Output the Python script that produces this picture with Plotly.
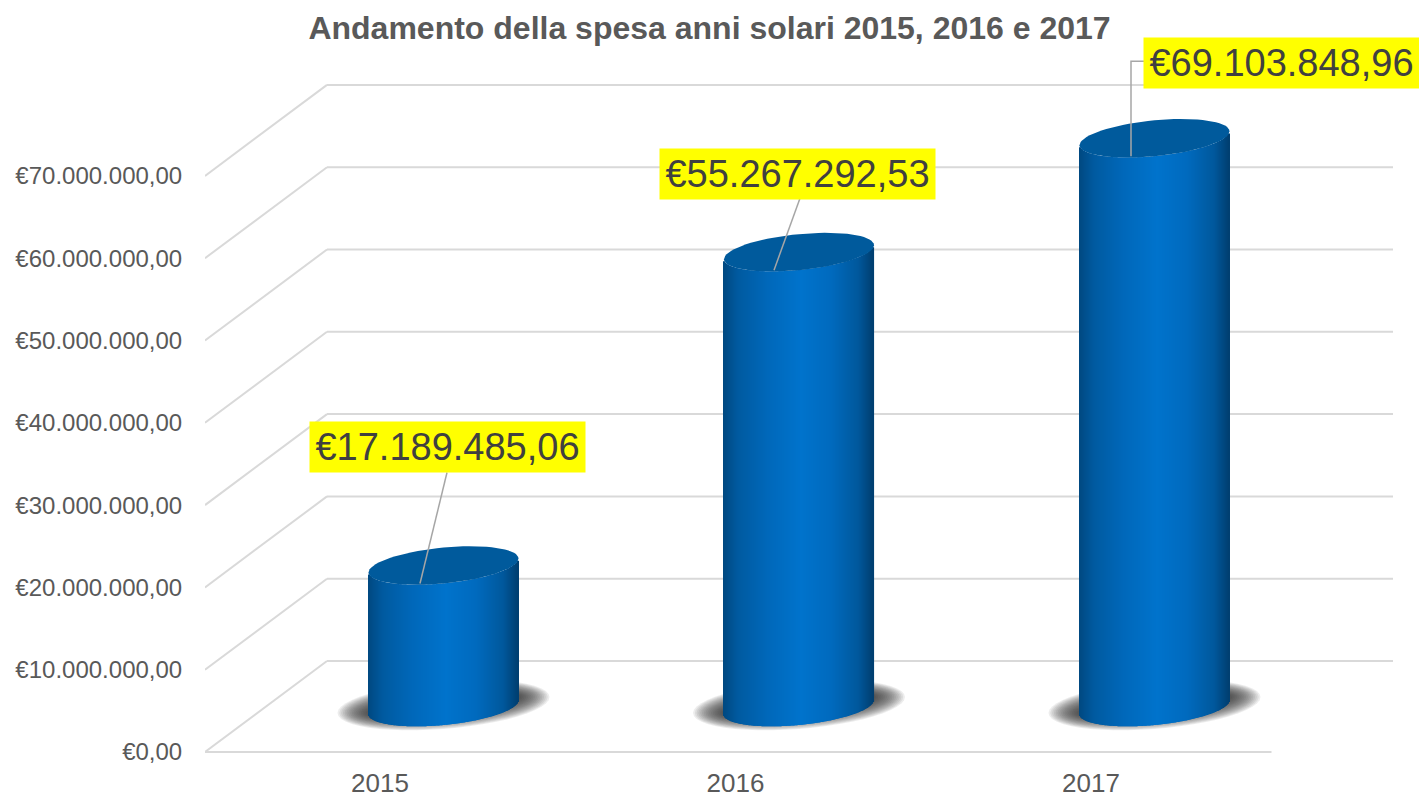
import math
import plotly.graph_objects as go

# ---- data ----
years = ["2015", "2016", "2017"]
values = [17189485.06, 55267292.53, 69103848.96]
value_labels = ["€17.189.485,06", "€55.267.292,53", "€69.103.848,96"]
axis_ticks = [0, 10e6, 20e6, 30e6, 40e6, 50e6, 60e6, 70e6]
axis_tick_labels = ["€0,00", "€10.000.000,00", "€20.000.000,00", "€30.000.000,00",
                    "€40.000.000,00", "€50.000.000,00", "€60.000.000,00", "€70.000.000,00"]
title_text = "Andamento della spesa anni solari 2015, 2016 e 2017"

# ---- geometry (pixels per axis unit, and pseudo-3D offsets in pixels) ----
W, H = 1419, 796
PLOT_L, PLOT_R, PLOT_T, PLOT_B = 205, 1393, 40, 756
FLOOR_PAD = 4                   # room under the zero line so it is not clipped
PX_PER_CAT = 355.5
PX_CAT0 = 380.0
PX_PER_VAL = 82.3 / 10e6
WALL_DX, WALL_DY = 122, 91      # depth of the floor
BAR_DX, BAR_DY = 63.5, 45       # bar centre on the floor
A, B, K = 75, 18, -7            # half-width, half-height, tilt of the cap ellipses


def dx(px):
    return px / PX_PER_CAT


def dy(px):
    return px / PX_PER_VAL


xrange_ = [(PLOT_L - PX_CAT0) / PX_PER_CAT, (PLOT_R - PX_CAT0) / PX_PER_CAT]
yrange_ = [-dy(FLOOR_PAD), dy(PLOT_B - FLOOR_PAD - PLOT_T)]
x_left = xrange_[0]

GRID = dict(color="#d9d9d9", width=2)
shapes = []
# side wall diagonals + back wall lines, from the axis ticks
for t in axis_ticks:
    shapes.append(dict(type="line", xref="x", yref="y", layer="below", line=GRID,
                       x0=x_left, y0=t, x1=x_left + dx(WALL_DX), y1=t + dy(WALL_DY)))
    shapes.append(dict(type="line", xref="x", yref="y", layer="below", line=GRID,
                       x0=x_left + dx(WALL_DX), y0=t + dy(WALL_DY),
                       x1=xrange_[1], y1=t + dy(WALL_DY)))
# front floor edge
shapes.append(dict(type="line", xref="x", yref="y", layer="below", line=GRID,
                   x0=x_left, y0=0, x1=x_left + 3 * dx(PX_PER_CAT), y1=0))


def ellipse(cx, cy, a, b, k, n=72):
    xs, ys = [], []
    for i in range(n + 1):
        t = 2 * math.pi * i / n
        xs.append(cx + dx(a * math.cos(t)))
        ys.append(cy - dy(b * math.sin(t) + k * math.cos(t)))
    return xs, ys


# soft shadows under the bars
SHADOW_LAYERS = 20
for i in range(len(years)):
    cx, cy = i + dx(BAR_DX), dy(BAR_DY + 2)
    for j in range(SHADOW_LAYERS):
        f = j / (SHADOW_LAYERS - 1)
        xs, ys = ellipse(cx, cy, 106 - 34 * f, 24 - 16 * f, -8, 48)
        path = "M" + "L".join(f"{x:.5f},{y:.1f}" for x, y in zip(xs, ys)) + "Z"
        shapes.append(dict(type="path", xref="x", yref="y", layer="below", path=path,
                           fillcolor="rgba(50,50,50,0.085)", line=dict(width=0)))

# cylinder shading stops (position, rgb)
STOPS = [(0.0, (0, 72, 128)), (0.10, (0, 90, 160)), (0.30, (0, 104, 186)),
         (0.52, (0, 115, 204)), (0.72, (0, 106, 190)), (0.90, (0, 88, 156)),
         (1.0, (0, 62, 112))]


def shade(f):
    for (p0, c0), (p1, c1) in zip(STOPS, STOPS[1:]):
        if f <= p1:
            r = (f - p0) / (p1 - p0)
            c = [round(u + (v - u) * r) for u, v in zip(c0, c1)]
            return f"rgb({c[0]},{c[1]},{c[2]})"
    return "rgb(0,62,112)"


fig = go.Figure()
N = 2 * A
for i, v in enumerate(values):
    cx = i + dx(BAR_DX)
    xs, bases, heights, colors = [], [], [], []
    for s in range(N):
        u = -1 + (2 * s + 1) / N
        front = B * math.sqrt(1 - u * u) + K * u
        xs.append(cx + dx(A * u))
        bases.append(dy(BAR_DY - front))
        heights.append(v)
        colors.append(shade((u + 1) / 2))
    fig.add_trace(go.Bar(x=xs, y=heights, base=bases, width=dx(2 * A / N) * 1.15,
                         marker=dict(color=colors, line=dict(width=0)),
                         showlegend=False, hoverinfo="skip"))

for i, v in enumerate(values):
    cx = i + dx(BAR_DX)
    ex, ey = ellipse(cx, v + dy(BAR_DY), A, B, K)
    fig.add_trace(go.Scatter(x=ex, y=ey, mode="lines", fill="toself", fillcolor="#005a9c",
                             line=dict(width=0, color="#005a9c"), showlegend=False,
                             hoverinfo="skip"))

# leader lines + yellow value labels; offsets in pixels from each bar's cap centre
label_offsets = [(3.5, -119), (-2, -78), (127, -75)]
leader_paths = [[(-23.5, 18), (3.5, -93)], [(-25, 18), (1, -54)], [(-23.5, 18), (-23.5, -77), (-10, -77)]]
for i, v in enumerate(values):
    cx = i + dx(BAR_DX)
    cy = v + dy(BAR_DY)
    fig.add_trace(go.Scatter(x=[cx + dx(p[0]) for p in leader_paths[i]],
                             y=[cy - dy(p[1]) for p in leader_paths[i]],
                             mode="lines", line=dict(color="#a6a6a6", width=1.5),
                             showlegend=False, hoverinfo="skip"))

annotations = []
for i, v in enumerate(values):
    ox, oy = label_offsets[i]
    annotations.append(dict(x=i + dx(BAR_DX + ox), y=v + dy(BAR_DY - oy), xref="x", yref="y",
                            text=value_labels[i], showarrow=False, bgcolor="#ffff00",
                            width=275, height=50, borderpad=0, xanchor="center", yanchor="middle",
                            font=dict(family="Liberation Sans", size=38, color="#404040")))

fig.update_layout(
    width=W, height=H, autosize=False, paper_bgcolor="white", plot_bgcolor="white",
    margin=dict(l=PLOT_L, r=W - PLOT_R, t=PLOT_T, b=H - PLOT_B, pad=0, autoexpand=False),
    barmode="overlay", showlegend=False,
    title=dict(text=f"<b>{title_text}</b>", x=0.5, xanchor="center", xref="container",
               y=1 - 28 / H, yanchor="middle", yref="container",
               font=dict(family="Liberation Sans", size=32, color="#595959")),
    xaxis=dict(range=xrange_, tickvals=list(range(len(years))), ticktext=years, showgrid=False,
               automargin=False, zeroline=False, showline=False, ticks="outside", ticklen=4,
               tickcolor="rgba(0,0,0,0)",
               tickfont=dict(family="Liberation Sans", size=26, color="#595959")),
    yaxis=dict(range=yrange_, tickvals=axis_ticks, ticktext=axis_tick_labels, showgrid=False,
               automargin=False, zeroline=False, showline=False, ticks="outside", ticklen=17,
               tickcolor="rgba(0,0,0,0)",
               tickfont=dict(family="Liberation Sans", size=24, color="#595959")),
    shapes=shapes, annotations=annotations,
)
fig.write_html("out.html", config={"displayModeBar": False},
               post_script="document.body.style.margin='0';document.body.style.overflow='hidden';")
